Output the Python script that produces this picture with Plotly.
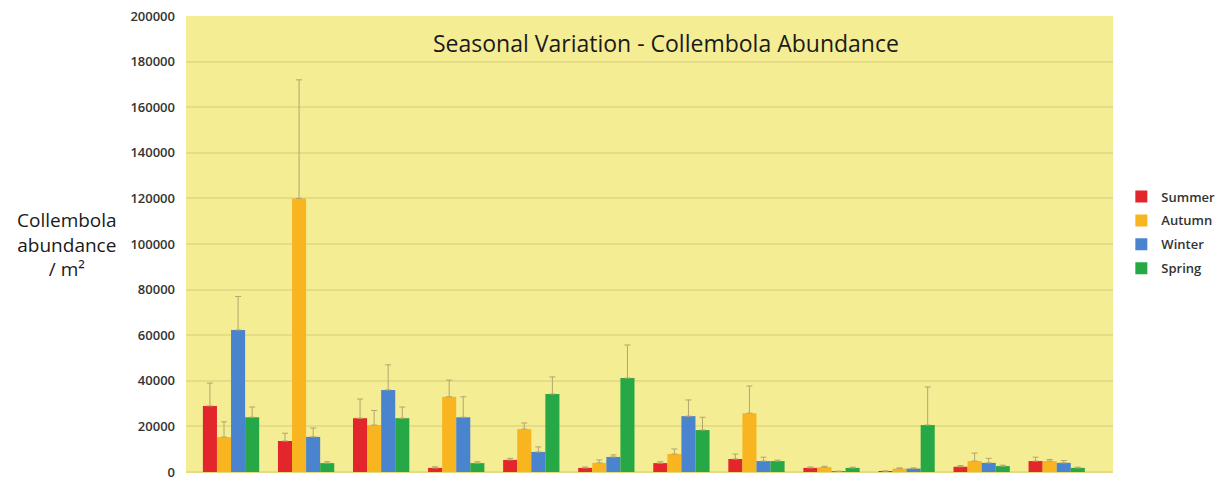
import plotly.graph_objects as go

sites = [f"Site {i}" for i in range(1, 13)]
seasons = ["Summer", "Autumn", "Winter", "Spring"]

summer = [29000, 13600, 23600, 1800, 5300, 1800, 3900, 5700, 1800, 300, 2300, 4800]
summer_err = [39000, 17000, 32000, 2300, 6000, 2200, 4500, 7900, 2200, 500, 2800, 6500]
autumn = [15300, 120000, 20600, 33000, 18800, 4000, 7900, 25800, 2100, 1500, 4800, 4800]
autumn_err = [22000, 172000, 27000, 40300, 21500, 5300, 10100, 37700, 2500, 1800, 8300, 5500]
winter = [62300, 15400, 36000, 24000, 8800, 6600, 24500, 4800, 200, 1500, 4000, 4000]
winter_err = [77000, 19300, 47000, 33000, 11000, 7500, 31600, 6500, 400, 1800, 6000, 5000]
spring = [24000, 3900, 23600, 3900, 34200, 41200, 18400, 4800, 1800, 20600, 2600, 1800]
spring_err = [28500, 4500, 28500, 4500, 41700, 55700, 24000, 5200, 2100, 37300, 3000, 2100]

colors = ["#e3262b", "#f8b520", "#4a84cf", "#27a847"]
values = [summer, autumn, winter, spring]
errs = [summer_err, autumn_err, winter_err, spring_err]

fig = go.Figure()
for name, v, e, c in zip(seasons, values, errs, colors):
    fig.add_trace(go.Bar(
        x=sites, y=v, name=name, legendgroup=name,
        marker=dict(color=c, line=dict(width=0)),
        error_y=dict(type="data", symmetric=False,
                     array=[hi - lo for hi, lo in zip(e, v)],
                     arrayminus=[0] * len(v),
                     color="#b3a56c", thickness=1, width=3),
    ))

fig.update_layout(
    width=1216, height=473,
    margin=dict(l=178, r=111, t=8, b=9, autoexpand=False),
    paper_bgcolor="white",
    plot_bgcolor="#f5ed94",
    barmode="group", bargap=0.25, bargroupgap=0,
    font=dict(family="Open Sans", color="#222"),
    showlegend=True,
    legend=dict(x=1.009, y=0.637, xanchor="left", yanchor="top",
                font=dict(size=13, family="Open Sans", color="#333", weight=600),
                itemwidth=30, tracegroupgap=4, traceorder="grouped",
                bgcolor="rgba(0,0,0,0)"),
    xaxis=dict(showticklabels=False, showgrid=False, zeroline=False,
               range=[-0.6, 11.75], ticks=""),
    yaxis=dict(range=[0, 200000], dtick=20000, tickformat="d", automargin=False,
               ticklabeloverflow="allow",
               showgrid=True, gridcolor="#e6dc85", gridwidth=1.5,
               zeroline=True, zerolinecolor="#e6dc85",
               tickfont=dict(size=13, family="Open Sans", color="#333", weight=600),
               ticks="", ticklabelstandoff=10),
    annotations=[
        dict(text="Seasonal Variation - Collembola Abundance", x=0.518, y=0.941,
             xref="paper", yref="paper", showarrow=False, xanchor="center",
             yanchor="middle",
             font=dict(size=23, family="Open Sans", color="#1a1a1a")),
        dict(text="Collembola<br>abundance<br>/ m²", x=-0.128, y=0.5,
             xref="paper", yref="paper", showarrow=False, xanchor="center",
             yanchor="middle",
             font=dict(size=19, family="Open Sans", color="#1a1a1a")),
    ],
)
fig.write_html("out.html")
